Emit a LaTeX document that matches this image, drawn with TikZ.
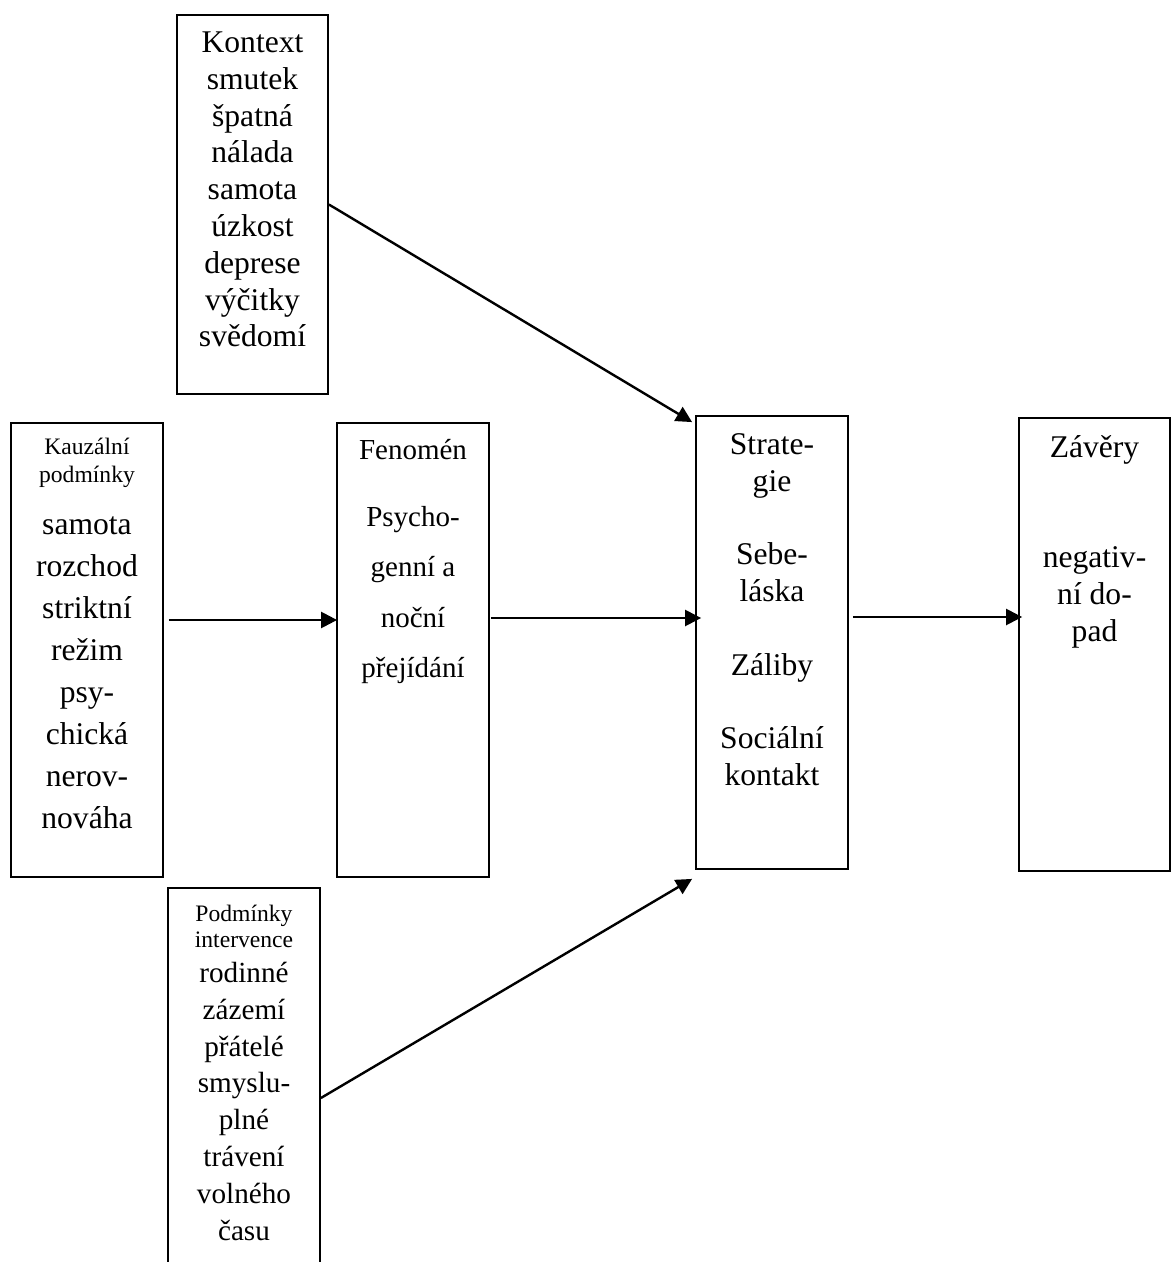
\documentclass[tikz,border=0pt]{standalone}
\usepackage{fontspec}
\setmainfont{Liberation Serif}
\usetikzlibrary{arrows.meta}

\newcommand{\topline}{\rule{0pt}{12pt}}

\tikzset{
  box/.style={draw, line width=0.9pt, inner sep=0pt},
  txt/.style={anchor=north, inner sep=0pt, align=center},
  arr/.style={-{Triangle[length=8pt,width=8pt]}, line width=1.2pt},
}

\begin{document}
\begin{tikzpicture}[x=0.5pt,y=-0.5pt]
   \useasboundingbox (0,0) rectangle (1173,1262);
   \clip (0,0) rectangle (1173,1262);

   \node[box, minimum width=75.5pt, minimum height=189.5pt] (kon) at (252.5,204.5) {};
   \node[box, minimum width=76pt, minimum height=227pt] (kau) at (87,650) {};
   \node[box, minimum width=76pt, minimum height=227pt] (fen) at (413,650) {};
   \node[box, minimum width=76pt, minimum height=226.5pt] (str) at (772,642.5) {};
   \node[box, minimum width=75.5pt, minimum height=226.5pt] (zav) at (1094.5,644.5) {};
   \node[box, minimum width=76pt, minimum height=210pt] (pod) at (244,1098) {};

   \node[txt, font=\fontsize{15.8pt}{18.4pt}\selectfont] (kont) at ([yshift=-7pt]kon.north)
    {\topline Kontext\\smutek\\špatná\\nálada\\samota\\úzkost\\deprese\\výčitky\\svědomí};

   \node[txt, font=\fontsize{11.8pt}{14pt}\selectfont] (kauh) at ([yshift=-4pt]kau.north)
    {\topline Kauzální\\podmínky};
   \node[txt, font=\fontsize{15.8pt}{21pt}\selectfont] (kaut) at ([yshift=-44pt]kau.north)
    {\topline samota\\rozchod\\striktní\\režim\\psy-\\chická\\nerov-\\nováha};

   \node[txt, font=\fontsize{14.5pt}{18pt}\selectfont] (fenh) at ([yshift=-6.5pt]fen.north)
    {\topline Fenomén};
   \node[txt, font=\fontsize{14.5pt}{25.2pt}\selectfont] (fent) at ([yshift=-40pt]fen.north)
    {\topline Psycho-\\genní a\\noční\\přejídání};

   \node[txt, font=\fontsize{15.8pt}{18.4pt}\selectfont] (strt) at ([yshift=-7.5pt]str.north)
    {\topline Strate-\\gie\\[18.4pt]Sebe-\\láska\\[18.4pt]Záliby\\[18.4pt]Sociální\\kontakt};

   \node[txt, font=\fontsize{15.8pt}{18.4pt}\selectfont] (zavt) at ([yshift=-8pt]zav.north)
    {\topline Závěry\\[36.8pt]negativ-\\ní do-\\pad};

   \node[txt, font=\fontsize{11.8pt}{13pt}\selectfont] (podh) at ([yshift=-5pt]pod.north)
    {\topline Podmínky\\intervence};
   \node[txt, font=\fontsize{14.6pt}{18.4pt}\selectfont] (podt) at ([yshift=-35.5pt]pod.north)
    {\topline rodinné\\zázemí\\přátelé\\smyslu-\\plné\\trávení\\volného\\času};

   \draw[arr] (kon.east) -- ([xshift=-1.5pt,yshift=-3.5pt]str.north west);
   \draw[arr] ([xshift=2.5pt,yshift=15pt]kau.east) -- ([xshift=0.5pt,yshift=15pt]fen.west);
   \draw[arr] ([xshift=0.5pt,yshift=16pt]fen.east) -- ([xshift=3pt,yshift=12.25pt]str.west);
   \draw[arr] ([xshift=2pt,yshift=12.75pt]str.east) -- ([xshift=2pt,yshift=13.75pt]zav.west);
   \draw[arr] (pod.east) -- ([xshift=-1.5pt,yshift=-4.5pt]str.south west);
\end{tikzpicture}
\end{document}
